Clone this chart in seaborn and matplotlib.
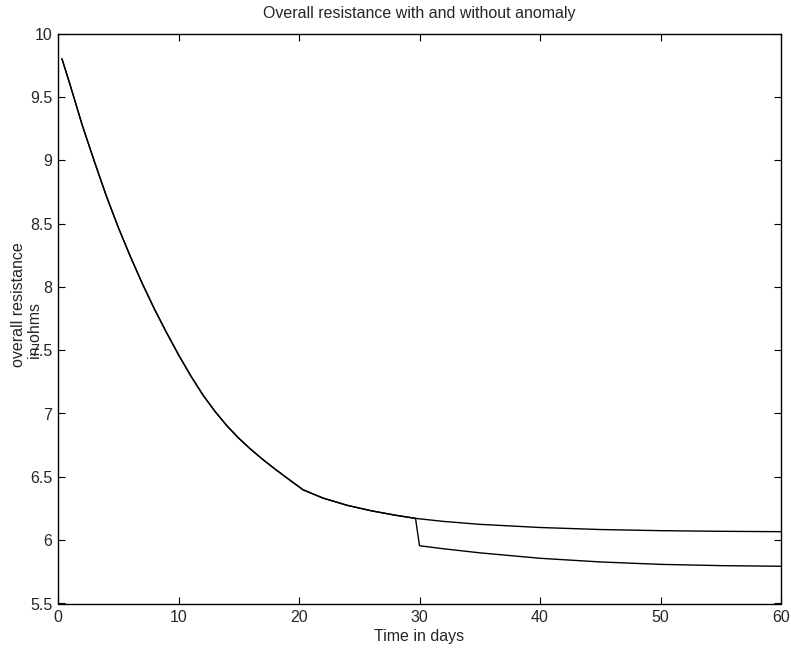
import matplotlib
matplotlib.use("Agg")
import matplotlib.pyplot as plt
import seaborn as sns
import pandas as pd

# Data
days_normal = [0.33, 1, 2, 3, 4, 5, 6, 7, 8, 9, 10, 11, 12, 13, 14, 15, 16, 17,
               18, 19, 20.33, 22, 24, 26, 28, 29.67, 32, 35, 40, 45, 50, 55, 60]
res_normal = [9.80, 9.596, 9.28, 8.995, 8.72, 8.47, 8.24, 8.025, 7.825, 7.64,
              7.464, 7.300, 7.150, 7.020, 6.905, 6.805, 6.717, 6.637, 6.562,
              6.491, 6.398, 6.332, 6.275, 6.232, 6.197, 6.172, 6.148, 6.125,
              6.100, 6.084, 6.075, 6.070, 6.067]

days_anomaly = [0.33, 1, 2, 3, 4, 5, 6, 7, 8, 9, 10, 11, 12, 13, 14, 15, 16, 17,
                18, 19, 20.33, 22, 24, 26, 28, 29.67, 30, 32, 35, 40, 45, 50,
                55, 60]
res_anomaly = [9.80, 9.596, 9.28, 8.995, 8.72, 8.47, 8.24, 8.025, 7.825, 7.64,
               7.464, 7.300, 7.150, 7.020, 6.905, 6.805, 6.717, 6.637, 6.562,
               6.491, 6.398, 6.332, 6.275, 6.232, 6.197, 6.172, 5.956, 5.932,
               5.900, 5.857, 5.828, 5.809, 5.799, 5.794]

x_ticks = [0, 10, 20, 30, 40, 50, 60]
y_ticks = [5.5, 6, 6.5, 7, 7.5, 8, 8.5, 9, 9.5, 10]
y_tick_labels = ["5.5", "6", "6.5", "7", "7.5", "8", "8.5", "9", "9.5", "10"]

sns.set_style("white")
plt.rcParams["font.family"] = ["Liberation Sans", "DejaVu Sans"]
plt.rcParams["xtick.direction"] = "in"
plt.rcParams["ytick.direction"] = "in"

FS = 11.5

fig = plt.figure(figsize=(7.91, 6.51), dpi=100)
ax = fig.add_axes([58 / 791, (651 - 603.5) / 651, 723 / 791, 570 / 651])

df1 = pd.DataFrame({"t": days_normal, "r": res_normal})
df2 = pd.DataFrame({"t": days_anomaly, "r": res_anomaly})
sns.lineplot(data=df1, x="t", y="r", ax=ax, color="black", linewidth=1.0)
sns.lineplot(data=df2, x="t", y="r", ax=ax, color="black", linewidth=1.0)

ax.set_xlim(0, 60)
ax.set_ylim(5.5, 10)
ax.set_xticks(x_ticks)
ax.set_xticklabels([str(v) for v in x_ticks], fontsize=FS)
ax.set_yticks(y_ticks)
ax.set_yticklabels(y_tick_labels, fontsize=FS)
ax.tick_params(axis="both", which="both", direction="in", length=5, width=0.8,
               color="black", top=True, right=True, bottom=True, left=True)
ax.tick_params(axis="x", pad=5)
ax.tick_params(axis="y", pad=4)
for s in ax.spines.values():
    s.set_visible(True)
    s.set_color("black")
    s.set_linewidth(1.0)

ax.set_xlabel("")
ax.set_ylabel("")
ax.set_title("Overall resistance with and without anomaly", fontsize=FS, pad=11)
fig.text((58 + 723 / 2) / 791, 1 - 636 / 651, "Time in days", ha="center",
         va="center", fontsize=FS)
fig.text(19 / 791, 1 - 305 / 651, "overall resistance", rotation=90,
         ha="center", va="center", fontsize=FS)
fig.text(36 / 791, 1 - 331 / 651, "in ohms", rotation=90,
         ha="center", va="center", fontsize=FS)

fig.savefig("out.png", dpi=100, facecolor="white")
